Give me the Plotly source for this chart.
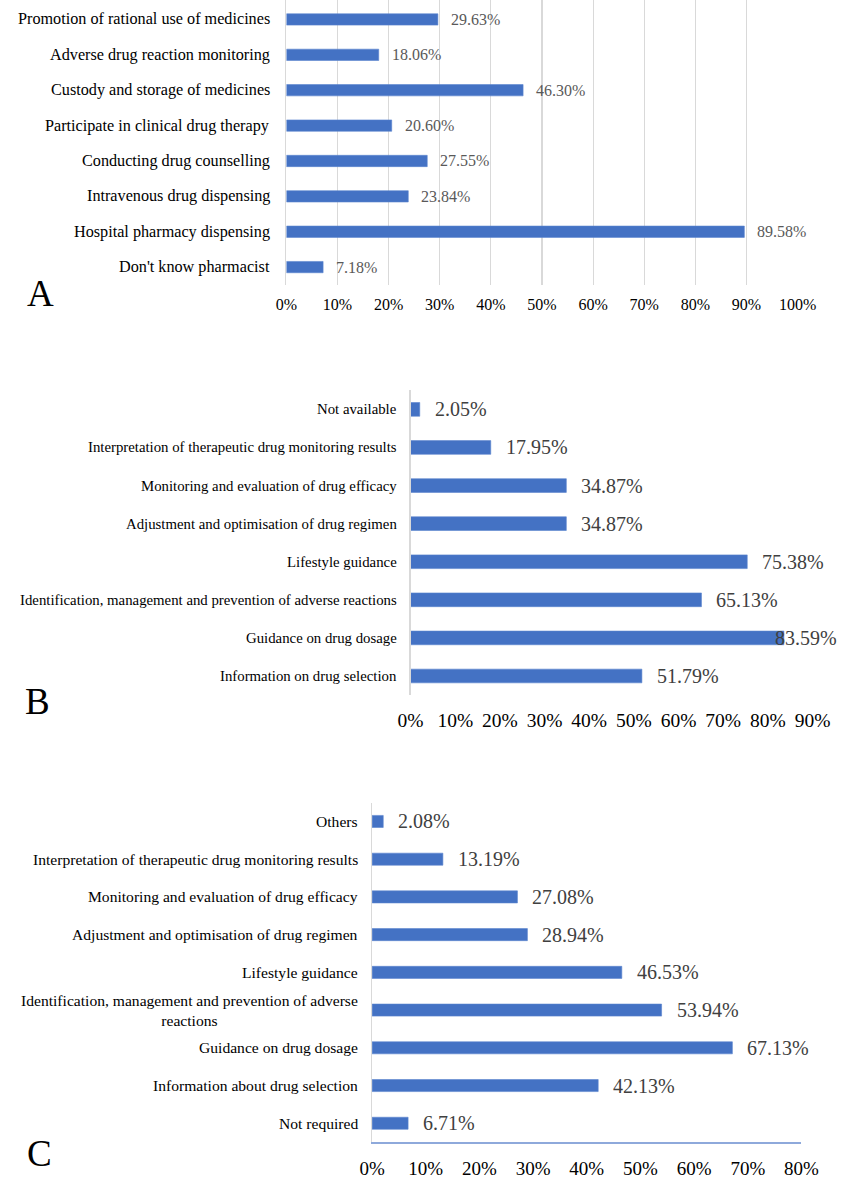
import plotly.graph_objects as go

W, H = 858, 1179

# ---------------- data ----------------
a_categories = ["Promotion of rational use of medicines", "Adverse drug reaction monitoring",
                "Custody and storage of medicines", "Participate in clinical drug therapy",
                "Conducting drug counselling", "Intravenous drug dispensing",
                "Hospital pharmacy dispensing", "Don't know pharmacist"]
a_values = [29.63, 18.06, 46.30, 20.60, 27.55, 23.84, 89.58, 7.18]

b_categories = ["Not available", "Interpretation of therapeutic drug monitoring results",
                "Monitoring and evaluation of drug efficacy", "Adjustment and optimisation of drug regimen",
                "Lifestyle guidance", "Identification, management and prevention of adverse reactions",
                "Guidance on drug dosage", "Information on drug selection"]
b_values = [2.05, 17.95, 34.87, 34.87, 75.38, 65.13, 83.59, 51.79]

c_categories = ["Others", "Interpretation of therapeutic drug monitoring results",
                "Monitoring and evaluation of drug efficacy", "Adjustment and optimisation of drug regimen",
                "Lifestyle guidance", "Identification, management and prevention of adverse<br>reactions",
                "Guidance on drug dosage", "Information about drug selection", "Not required"]
c_values = [2.08, 13.19, 27.08, 28.94, 46.53, 53.94, 67.13, 42.13, 6.71]

a_ticks = list(range(0, 101, 10))
b_ticks = list(range(0, 91, 10))
c_ticks = list(range(0, 81, 10))

panel_letters = ["A", "B", "C"]

# ---------------- style ----------------
FONT = "Liberation Serif"
BAR = "#4472C4"

def xd(x0, x1):
    return [x0 / W, x1 / W]

def yd(y0, y1):
    return [max(0.0, 1 - y1 / H), min(1.0, 1 - y0 / H)]

panels = [
    dict(cats=a_categories, vals=a_values, ticks=a_ticks, rng=[0, 100],
         xdom=xd(284, 815), ydom=yd(0, 286), yrange=[7.5, -0.55], width=0.32,
         lab_size=16, lab_col="#595959", cat_size=16.2, cat_gap=14,
         tick_size=16, grid=True, xline=None, gap=11,
         letter=(12, 294.5), tick_standoff=8),
    dict(cats=b_categories, vals=b_values, ticks=b_ticks, rng=[0, 90],
         xdom=xd(413, 830.5), ydom=yd(392, 698), yrange=None, width=0.36,
         lab_size=20, lab_col="#404040", cat_size=14.8, cat_gap=12,
         tick_size=19.5, grid=False, xline=None, gap=13,
         letter=(10, 704), tick_standoff=11),
    dict(cats=c_categories, vals=c_values, ticks=c_ticks, rng=[0, 80],
         xdom=xd(373, 819), ydom=yd(806, 1147), yrange=None, width=0.32,
         lab_size=20, lab_col="#404040", cat_size=15.6, cat_gap=12,
         tick_size=19, grid=False, xline="#8EA9DB", gap=13,
         letter=(12, 1158), tick_standoff=9),
]

def label_width(text, size):
    w = 0.0
    for ch in text:
        w += {".": 0.25, "%": 0.833}.get(ch, 0.5)
    return w * size

fig = go.Figure()
annotations = []
layout = {}

for i, p in enumerate(panels, start=1):
    xa = "x" if i == 1 else f"x{i}"
    ya = "y" if i == 1 else f"y{i}"
    fig.add_trace(go.Bar(
        x=p["vals"], y=p["cats"], orientation="h", width=p["width"],
        marker=dict(color=BAR, line=dict(color="#5B84CF", width=0.6)),
        xaxis=xa, yaxis=ya, showlegend=False, hoverinfo="skip"))

    x0_px = p["xdom"][0] * W
    px_per = (p["xdom"][1] - p["xdom"][0]) * W / (p["rng"][1] - p["rng"][0])
    for v, c in zip(p["vals"], p["cats"]):
        label = f"{v:.2f}%"
        shift = p["gap"]
        tw = label_width(label, p["lab_size"]) + 4
        end_bar = x0_px + v * px_per
        # keep the label inside the chart area, as the original does
        if end_bar + shift + tw > W - 2:
            shift = (W - 2 - tw) - end_bar
        annotations.append(dict(
            x=v, y=c, xref=xa, yref=ya, text=label, showarrow=False,
            xanchor="left", yanchor="middle", xshift=shift,
            font=dict(family=FONT, size=p["lab_size"], color=p["lab_col"])))
        # category label (centered multi-line text like the original)
        annotations.append(dict(
            x=0, y=c, xref=xa, yref=ya, text=c, showarrow=False,
            xanchor="right", yanchor="middle", align="center", xshift=-p["cat_gap"],
            font=dict(family=FONT, size=p["cat_size"], color="black")))

    lx, ly = p["letter"]
    annotations.append(dict(
        x=lx / W, y=1 - ly / H, xref="paper", yref="paper",
        text=panel_letters[i - 1], showarrow=False, xanchor="left", yanchor="middle",
        font=dict(family=FONT, size=37, color="black")))

    key_x = "xaxis" if i == 1 else f"xaxis{i}"
    key_y = "yaxis" if i == 1 else f"yaxis{i}"
    layout[key_x] = dict(
        domain=p["xdom"], anchor=ya, range=p["rng"], tickmode="array",
        tickvals=p["ticks"], ticktext=[f"{t}%" for t in p["ticks"]],
        showgrid=p["grid"], gridcolor="#D9D9D9", gridwidth=1.2,
        zeroline=False, showline=p["xline"] is not None,
        linecolor=p["xline"] or "#D9D9D9", linewidth=1.5,
        ticks="", ticklabelstandoff=p["tick_standoff"],
        tickfont=dict(family=FONT, size=p["tick_size"], color="black"),
        fixedrange=True)
    ycfg = dict(
        domain=p["ydom"], anchor=xa, type="category",
        showline=True, linecolor="#D9D9D9", linewidth=1.5 if not p["grid"] else 1.2,
        showgrid=False, ticks="", showticklabels=False, fixedrange=True)
    if p["yrange"] is not None:
        ycfg["range"] = p["yrange"]
    else:
        ycfg["autorange"] = "reversed"
    layout[key_y] = ycfg

fig.update_layout(
    width=W, height=H, margin=dict(l=0, r=0, t=0, b=0),
    paper_bgcolor="white", plot_bgcolor="white", hovermode=False,
    annotations=annotations, **layout)

# remove the browser's default page margin so the figure fills the window exactly
fig.write_html(
    "out.html",
    config={"displayModeBar": False, "staticPlot": True},
    post_script="document.body.style.margin='0';document.body.style.padding='0';"
                "document.documentElement.style.overflow='hidden';document.body.style.overflow='hidden';")
